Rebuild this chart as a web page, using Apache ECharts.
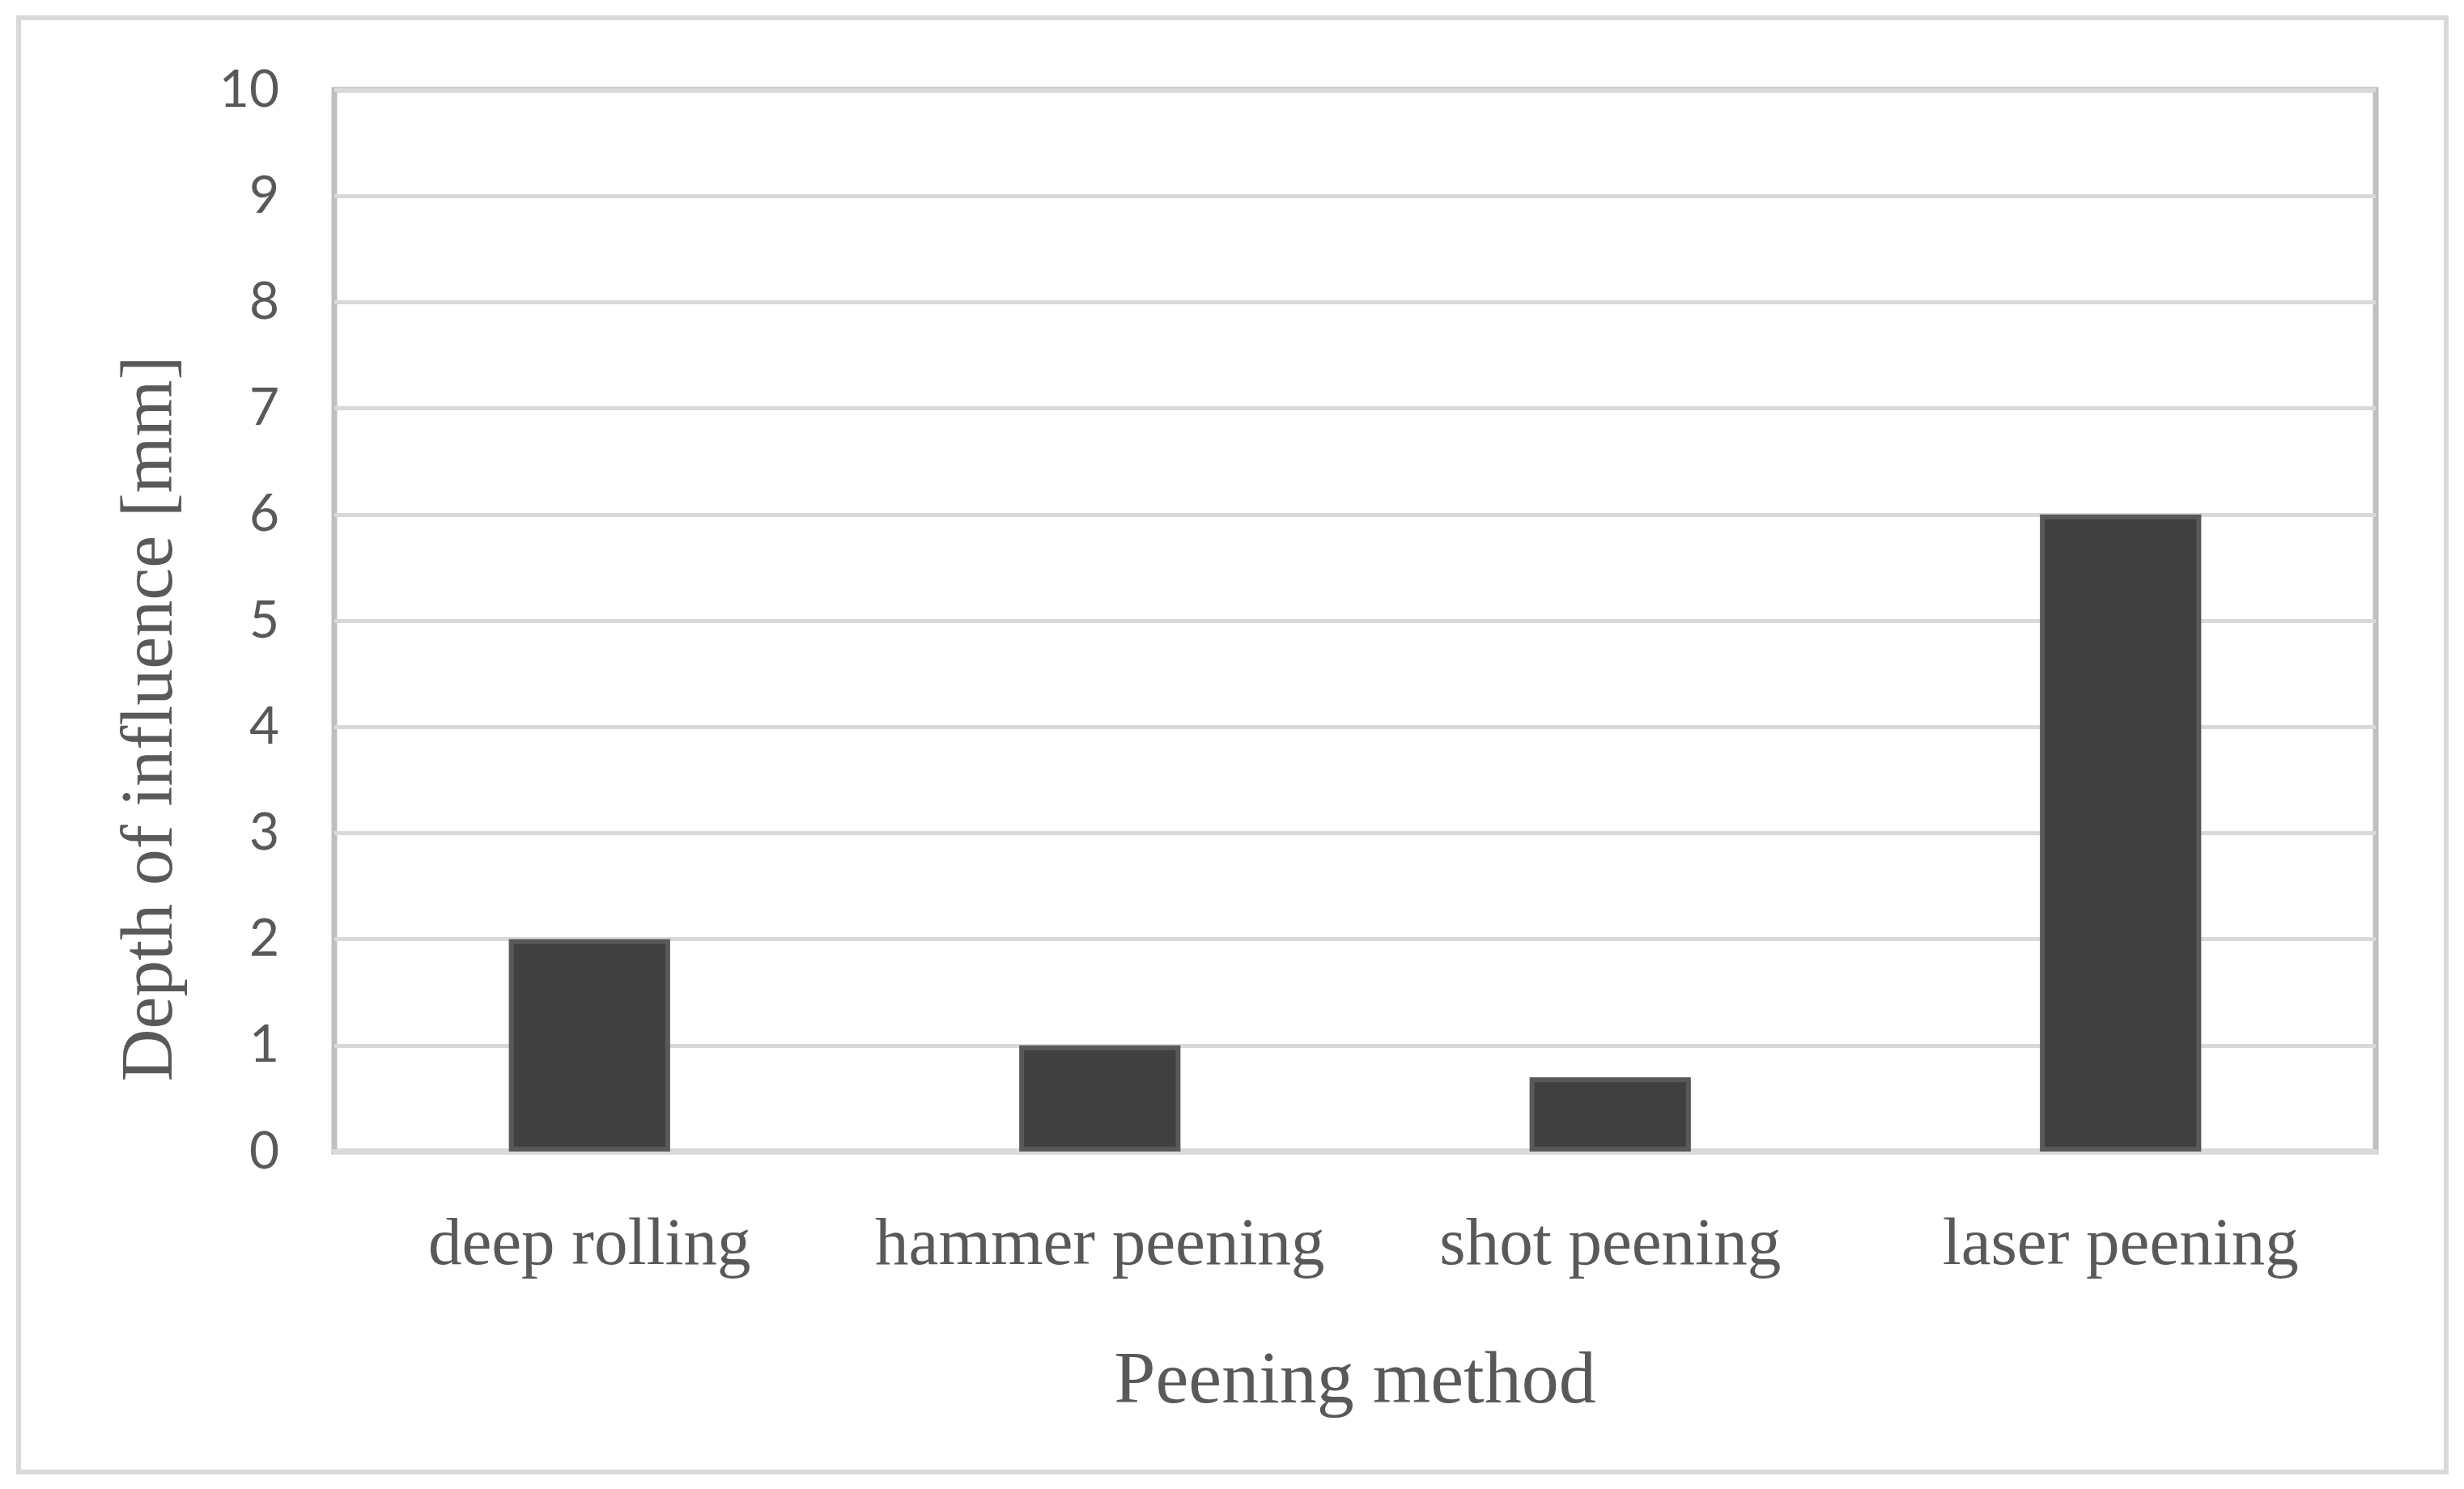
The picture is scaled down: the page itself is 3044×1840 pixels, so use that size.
<!DOCTYPE html>
<html>
<head>
<meta charset="utf-8">
<script src="https://cdn.jsdelivr.net/npm/echarts@6/dist/echarts.min.js"></script>
<style>
html,body{margin:0;padding:0;background:#fff;}
#chart{width:3044px;height:1840px;}
</style>
</head>
<body>
<div id="chart"></div>
<script>
const categories = ['deep rolling', 'hammer peening', 'shot peening', 'laser peening'];
const depthValues = [2, 1, 0.7, 6];
const yTicks = { min: 0, max: 10, interval: 1 };
const xAxisTitle = 'Peening method';
const yAxisTitle = 'Depth of influence [mm]';

const chart = echarts.init(document.getElementById('chart'));
const serif = '"Liberation Serif", "Times New Roman", serif';
chart.setOption({
  backgroundColor: '#ffffff',
  animation: false,
  graphic: [{
    type: 'rect',
    shape: { x: 23, y: 22, width: 2999, height: 1797 },
    style: { fill: 'none', stroke: '#d9d9d9', lineWidth: 6 },
    silent: true
  }],
  grid: {
    left: 413, right: 109, top: 111, bottom: 417,
    show: true, borderColor: '#bfbfbf', borderWidth: 7, backgroundColor: 'transparent'
  },
  xAxis: {
    type: 'category',
    data: categories,
    axisLine: { show: true, lineStyle: { color: '#d9d9d9', width: 6 } },
    axisTick: { show: false },
    axisLabel: { color: '#595959', fontFamily: serif, fontSize: 83, margin: 76, interval: 0 },
    name: xAxisTitle,
    nameLocation: 'middle',
    nameGap: 240,
    nameTextStyle: { color: '#595959', fontFamily: serif, fontSize: 92 }
  },
  yAxis: {
    type: 'value',
    min: yTicks.min, max: yTicks.max, interval: yTicks.interval,
    axisLine: { show: false },
    axisTick: { show: false },
    splitLine: { show: true, lineStyle: { color: '#d9d9d9', width: 5 } },
    axisLabel: { color: '#595959', fontFamily: 'Lato, "Open Sans", sans-serif', fontSize: 64, margin: 68 },
    name: yAxisTitle,
    nameLocation: 'middle',
    nameGap: 180,
    nameTextStyle: { color: '#595959', fontFamily: serif, fontSize: 90, padding: [0, 242, 0, 0] }
  },
  series: [{
    type: 'bar',
    data: depthValues,
    barWidth: '31.6%',
    itemStyle: { color: '#404040', borderColor: '#595959', borderWidth: 6 },
    z: 3
  }]
});
</script>
</body>
</html>
